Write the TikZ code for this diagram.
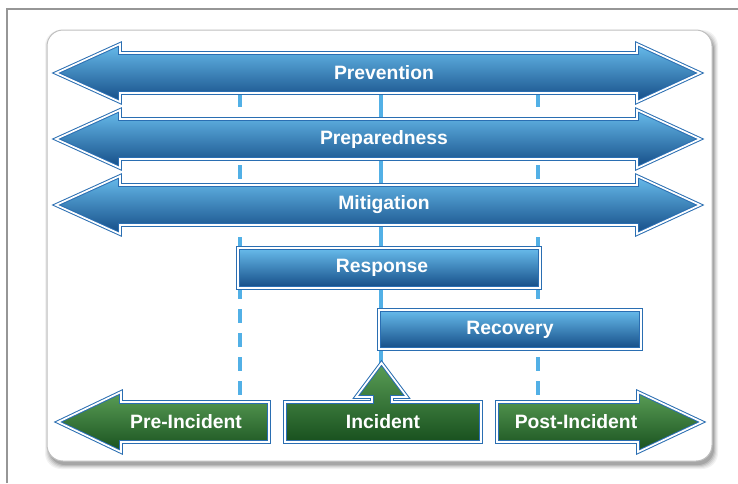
\documentclass[tikz,border=0pt]{standalone}
\usepackage{fontspec}
\setmainfont{Liberation Sans}
\definecolor{bluetop}{RGB}{104,188,236}
\definecolor{bluemid}{RGB}{44,128,196}
\definecolor{bluebot}{RGB}{20,76,134}
\definecolor{greentop}{RGB}{90,158,86}
\definecolor{greenmid}{RGB}{46,120,50}
\definecolor{greenbot}{RGB}{24,80,30}
\definecolor{edgeblue}{RGB}{42,110,178}
\definecolor{dashblue}{RGB}{82,176,230}
\definecolor{framegray}{RGB}{150,150,150}
\tikzset{
  bluefill/.style={top color=bluetop, middle color=bluemid, bottom color=bluebot,
    draw=edgeblue, double=white, line width=0.75pt, double distance=1.3pt, line join=miter},
  greenfill/.style={top color=greentop, middle color=greenmid, bottom color=greenbot,
    draw=edgeblue, double=white, line width=0.75pt, double distance=1.3pt, line join=miter},
  lbl/.style={text=white, font=\bfseries\fontsize{14.5}{17}\selectfont, inner sep=0pt},
  dashline/.style={draw=dashblue, line width=2.3pt, dash pattern=on 10.5pt off 7.5pt},
  solidline/.style={draw=dashblue, line width=2.3pt},
}
\begin{document}
\begin{tikzpicture}[x=0.75pt, y=-0.75pt]
\useasboundingbox (0,0) rectangle (738,483);
% outer frame (top and left)
\coordinate (fbl) at (7,483);
\coordinate (ftl) at (7,9);
\coordinate (ftr) at (738,9);
\draw[framegray, line width=1.1pt] (fbl) -- (ftl) -- (ftr);
% panel shadow
\foreach \e/\o in {4/0.05,3/0.06,2/0.08,1/0.10,0/0.12}{
  \fill[black, opacity=\o, rounded corners=12pt] (47+2-\e,30+4-\e) rectangle (712+2+\e,461+4+\e);
}
% panel
\draw[fill=white, draw=black!25, line width=0.75pt, rounded corners=12pt] (47,30) rectangle (712,461);
% vertical guide lines
\coordinate (l1t) at (240,93);  \coordinate (l1b) at (240,402);
\coordinate (l3t) at (538,93);  \coordinate (l3b) at (538,402);
\coordinate (l2t) at (381,93);  \coordinate (l2b) at (381,366);
\draw[dashline] (l1t) -- (l1b);
\draw[dashline] (l3t) -- (l3b);
\draw[solidline] (l2t) -- (l2b);
% double arrows
\foreach \cy/\nm/\txt in {73/prev/Prevention,139/prep/Preparedness,205/miti/Mitigation}{
  \path[bluefill] (56,\cy) -- (120,\cy-29) -- (120,\cy-20) -- (637,\cy-20) -- (637,\cy-29)
     -- (700,\cy) -- (637,\cy+29) -- (637,\cy+20) -- (120,\cy+20) -- (120,\cy+29) -- cycle;
  \node[lbl] (\nm) at (384,\cy) {\txt};
}
% response / recovery bars
\path[bluefill] (238,248) rectangle (540,288);
\node[lbl] (resp) at (382,268) {Response};
\path[bluefill] (379,310) rectangle (641,349);
\node[lbl] (reco) at (510,329.5) {Recovery};
% bottom green arrows
\path[greenfill] (58,422) -- (121,392) -- (121,402) -- (269,402) -- (269,442) -- (121,442) -- (121,452) -- cycle;
\node[lbl] (pre) at (186,422) {Pre-Incident};
\path[greenfill] (285,402) -- (372,402) -- (372,397) -- (356,397) -- (381.5,363) -- (407,397)
   -- (392,397) -- (392,402) -- (481,402) -- (481,442) -- (285,442) -- cycle;
\node[lbl] (inc) at (383,422) {Incident};
\path[greenfill] (497,402) -- (638,402) -- (638,392) -- (702,422) -- (638,452) -- (638,442) -- (497,442) -- cycle;
\node[lbl] (post) at (576,422) {Post-Incident};
\end{tikzpicture}
\end{document}
